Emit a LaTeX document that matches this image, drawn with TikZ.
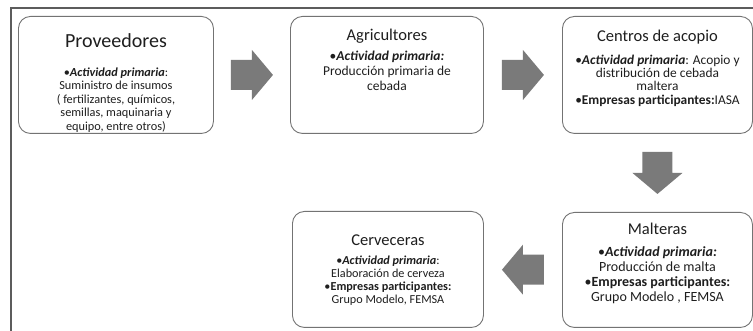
\documentclass[tikz,border=0pt]{standalone}
\usepackage{fontspec}
\setmainfont{Carlito}
\usetikzlibrary{positioning,calc}
\definecolor{boxline}{HTML}{737373}
\definecolor{arrowgray}{HTML}{7A7A7A}
\definecolor{txt}{HTML}{1E1E1E}
\tikzset{
  stagebox/.style={draw=boxline,line width=.9pt,rounded corners=12pt,anchor=north west,inner sep=0pt},
  stagetitle/.style={inner sep=0pt,text=txt,font=\fontsize{16.5}{19}\selectfont},
  stagetext/.style={inner sep=0pt,align=center,text=txt},
  blockarrow/.pic={\fill[arrowgray] (-21,-15) -- (0,-15) -- (0,-25) -- (21,0) -- (0,25) -- (0,15) -- (-21,15) -- cycle;}
}
\newcommand{\act}[1]{\textbf{\textit{#1}}}
\begin{document}
\begin{tikzpicture}[x=1pt,y=-1pt]
	\useasboundingbox (0,0) rectangle (753,331);
	\draw[boxline!80!black,line width=1.3pt] (11,331)--(11,8)--(753,8);
	% the five stages
	\node[stagebox,minimum width=195pt,minimum height=117pt] (prov) at (18,16){};
	\node[stagebox,minimum width=193pt,minimum height=117pt] (agri) at (290,16){};
	\node[stagebox,minimum width=190pt,minimum height=117pt] (acopio) at (562,16){};
	\node[stagebox,minimum width=190pt,minimum height=115pt] (malt) at (562,212){};
	\node[stagebox,minimum width=191pt,minimum height=116pt] (cerv) at (292,211){};
	% titles and texts
	\node[stagetitle,font=\fontsize{20}{24}\selectfont,below=17pt of prov.north] (provT){Proveedores};
	\node[stagetext,font=\fontsize{12.3}{13.5}\selectfont,below=20pt of provT] (provX){•\act{Actividad primaria}:\\Suministro de insumos\\( fertilizantes, químicos,\\semillas, maquinaria y\\equipo, entre otros)};
	\node[stagetitle,below=13pt of agri.north] (agriT){Agricultores};
	\node[stagetext,font=\fontsize{13.5}{15}\selectfont,below=7.5pt of agriT] (agriX){•\act{Actividad primaria:}\\Producción primaria de\\cebada};
	\node[stagetitle,below=14pt of acopio.north] (acopioT){Centros de acopio};
	\node[stagetext,font=\fontsize{13.4}{13.4}\selectfont,below=10pt of acopioT] (acopioX){•\act{Actividad primaria}: Acopio y\\distribución de cebada\\maltera\\•\textbf{Empresas participantes:}IASA};
	\node[stagetitle,below=11pt of malt.north] (maltT){Malteras};
	\node[stagetext,font=\fontsize{14}{15.2}\selectfont,below=11pt of maltT] (maltX){•\act{Actividad primaria:}\\Producción de malta\\•\textbf{Empresas participantes:}\\Grupo Modelo , FEMSA};
	\node[stagetitle,below=24pt of cerv.north] (cervT){Cerveceras};
	\node[stagetext,font=\fontsize{12.2}{12.8}\selectfont,below=10pt of cervT] (cervX){•\act{Actividad primaria}:\\Elaboración de cerveza\\•\textbf{Empresas participantes:}\\Grupo Modelo, FEMSA};
	% block arrows between the stages
	\path ($(prov.east)!.5!(agri.west)$) pic{blockarrow};
	\path ($(agri.east)!.5!(acopio.west)$) pic{blockarrow};
	\path ($(acopio.south)!.5!(malt.north)$) pic[rotate=-90]{blockarrow};
	\path ($(malt.west)!.5!(cerv.east)$) pic[rotate=180]{blockarrow};
\end{tikzpicture}
\end{document}
